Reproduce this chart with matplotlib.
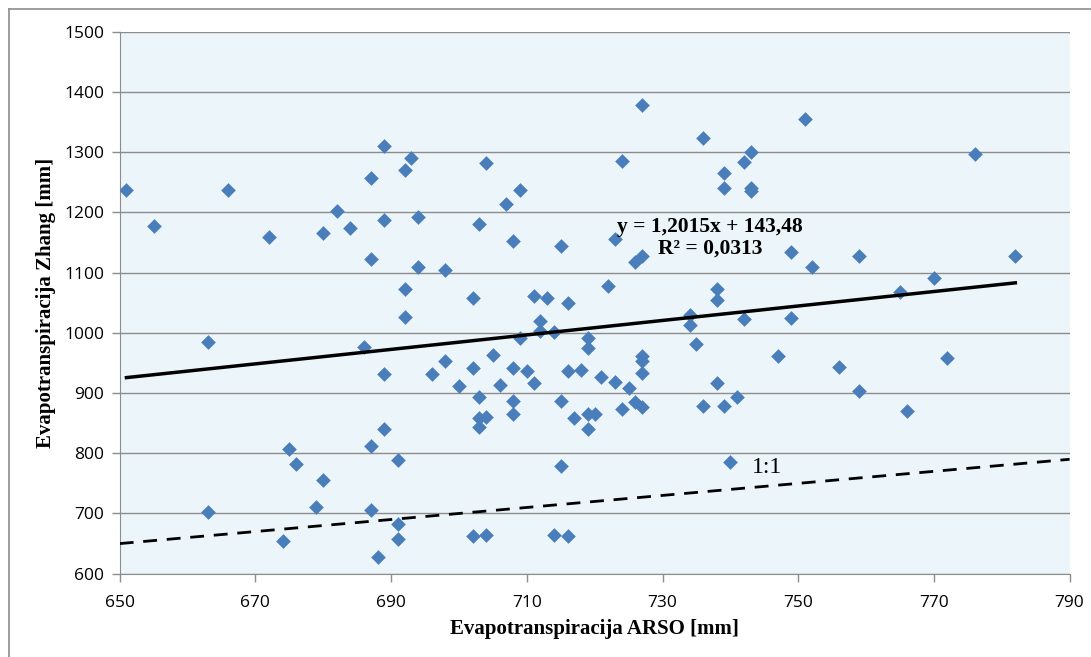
import numpy as np
import matplotlib
import matplotlib.pyplot as plt
from matplotlib.lines import Line2D

matplotlib.use('Agg')

# ARSO vs Zhang evapotranspiration (mm), one point per station
arso = [651, 655, 663, 663, 666, 672, 674, 675, 676, 679, 680, 680, 682, 684,
        686, 687, 687, 687, 687, 688, 689, 689, 689, 689, 691, 691, 691, 692,
        692, 692, 693, 694, 694, 696, 698, 698, 700, 702, 702, 702, 703, 703,
        703, 703, 704, 704, 704, 705, 706, 707, 708, 708, 708, 708, 709, 709,
        710, 711, 711, 712, 712, 713, 714, 714, 715, 715, 715, 716, 716, 716,
        717, 718, 719, 719, 719, 719, 720, 721, 722, 723, 723, 724, 724, 725,
        726, 726, 727, 727, 727, 727, 727, 727, 734, 734, 735, 736, 736, 738,
        738, 738, 739, 739, 739, 740, 741, 742, 742, 743, 743, 743, 747, 749,
        749, 751, 752, 756, 759, 759, 765, 766, 770, 772, 776, 782]
zhang = [1238, 1178, 984, 703, 1238, 1159, 655, 807, 783, 710, 756, 1166, 1203, 1174,
         977, 1258, 1122, 812, 706, 628, 1310, 1187, 932, 840, 789, 682, 658, 1270,
         1072, 1026, 1290, 1193, 1110, 931, 954, 1104, 911, 1058, 941, 663, 1180, 894,
         858, 844, 1282, 861, 665, 964, 914, 1214, 1153, 941, 887, 866, 1237, 991,
         936, 1062, 917, 1020, 1003, 1058, 1001, 664, 1145, 887, 779, 1049, 937, 662,
         858, 938, 992, 975, 865, 841, 865, 927, 1078, 1156, 918, 1285, 874, 908,
         1117, 885, 1379, 1128, 962, 953, 933, 877, 1029, 1013, 981, 1324, 879, 1072,
         1055, 916, 1265, 1240, 879, 786, 894, 1283, 1023, 1300, 1240, 1236, 962, 1135,
         1024, 1355, 1110, 943, 1127, 904, 1068, 870, 1091, 959, 1297, 1127]

# linear trend as reported
slope = 1.2015
intercept = 143.48
r2 = 0.0313

x_ticks = list(range(650, 791, 20))
y_ticks = list(range(600, 1501, 100))

fig = plt.figure(figsize=(10.91, 6.57), dpi=100)
ax = fig.add_axes([0.1097, 0.1268, 0.8707, 0.8248])
ax.set_facecolor('#ECF5F9')

ax.scatter(arso, zhang, marker='D', s=56, color='#4A7EBB', zorder=3, linewidths=0)

xs = np.array([min(arso), max(arso)])
ax.plot(xs, slope * xs + intercept, color='black', lw=2.5, zorder=4)

one = np.array([650, 790])
ax.plot(one, one, color='black', lw=2, dashes=(5, 3.5), zorder=4)
ax.text(745.4, 777, '1:1', fontsize=17, family='Liberation Serif', ha='center', va='center')

eq = 'y = 1,2015x + 143,48\nR\u00b2 = 0,0313'
ax.text(737.0, 1158, eq, fontsize=15.5, fontweight='bold', family='Liberation Serif',
        ha='center', va='center', linespacing=1.15, zorder=5)

ax.set_xlim(650, 790)
ax.set_ylim(600, 1500)
ax.set_xticks(x_ticks)
ax.set_yticks(y_ticks)
ax.yaxis.grid(True, color='#8C8C8C', lw=1)
ax.set_axisbelow(True)
for s in ['top', 'right']:
    ax.spines[s].set_visible(False)
for s in ['left', 'bottom']:
    ax.spines[s].set_color('#8C8C8C')
ax.tick_params(colors='#8C8C8C', labelcolor='black', length=6, width=1,
               labelsize=12.5, direction='out', pad=5)
for lbl in ax.get_xticklabels() + ax.get_yticklabels():
    lbl.set_family('Open Sans')
ax.tick_params(axis='x', pad=9)

ax.set_xlabel('Evapotranspiracija ARSO [mm]', fontsize=15, fontweight='bold',
              family='Liberation Serif', labelpad=6)
ax.set_ylabel('Evapotranspiracija Zhang [mm]', fontsize=15, fontweight='bold',
              family='Liberation Serif', labelpad=6)

# chart frame
fig.add_artist(Line2D([9 / 1091, 9 / 1091], [0, 1 - 9 / 657], color='#8C8C8C', lw=1.2))
fig.add_artist(Line2D([9 / 1091, 1], [1 - 9 / 657, 1 - 9 / 657], color='#8C8C8C', lw=1.2))

fig.savefig('out.png', dpi=100)
